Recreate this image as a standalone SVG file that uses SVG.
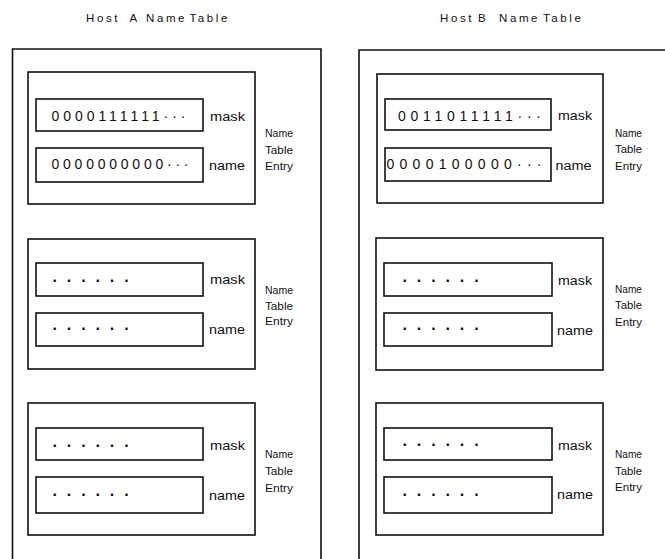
<svg xmlns="http://www.w3.org/2000/svg" width="665" height="559" viewBox="0 0 665 559">
<style>
.frame{fill:none;stroke:#111;stroke-width:1.6}
.t{font-family:"Liberation Sans",Arial,sans-serif;fill:#111}
.ttl{font-size:11.5px;letter-spacing:2.6px}
.lbl{font-size:12.5px}
.ent{font-size:11.6px}
.bits{font-size:14px}
.ph{font-size:16px;font-weight:bold;letter-spacing:9px}
</style>
<rect width="665" height="559" fill="#fff"/>

<g id="hostA">
  <text class="t ttl" y="21.5"><tspan x="86">Host</tspan><tspan x="129.5">A</tspan><tspan x="146">Name</tspan><tspan x="189.5">Table</tspan></text>
  <path class="frame" d="M12.5,560 V49 H321 V560"/>
</g>

<g id="hostA-entry1">
  <rect class="frame" x="28" y="72" width="227" height="132"/>
  <rect class="frame" x="36" y="99" width="167" height="32"/>
  <rect class="frame" x="36" y="148" width="167" height="34"/>
  <text class="t bits" x="51.5" y="121" textLength="134" lengthAdjust="spacing">0000111111···</text>
  <text class="t bits" x="51.5" y="168.5" textLength="137" lengthAdjust="spacing">0000000000···</text>
  <text class="t lbl" x="210" y="120.5" textLength="35" lengthAdjust="spacingAndGlyphs">mask</text>
  <text class="t lbl" x="209" y="170" textLength="36" lengthAdjust="spacingAndGlyphs">name</text>
  <text class="t ent" x="265" y="136.7" textLength="28" lengthAdjust="spacingAndGlyphs">Name</text>
  <text class="t ent" x="265" y="153.5" textLength="28" lengthAdjust="spacingAndGlyphs">Table</text>
  <text class="t ent" x="265" y="170" textLength="28" lengthAdjust="spacingAndGlyphs">Entry</text>
</g>

<g id="hostA-entry2">
  <rect class="frame" x="28" y="239" width="227" height="130"/>
  <rect class="frame" x="36" y="263" width="167" height="33"/>
  <rect class="frame" x="36" y="313" width="167" height="33"/>
  <text class="t ph" x="52.5" y="285.8">······</text>
  <text class="t ph" x="52.5" y="334">······</text>
  <text class="t lbl" x="210" y="284.3" textLength="35" lengthAdjust="spacingAndGlyphs">mask</text>
  <text class="t lbl" x="209" y="334.3" textLength="36" lengthAdjust="spacingAndGlyphs">name</text>
  <text class="t ent" x="265" y="294" textLength="28" lengthAdjust="spacingAndGlyphs">Name</text>
  <text class="t ent" x="265" y="309.5" textLength="28" lengthAdjust="spacingAndGlyphs">Table</text>
  <text class="t ent" x="265" y="325" textLength="28" lengthAdjust="spacingAndGlyphs">Entry</text>
</g>

<g id="hostA-entry3">
  <rect class="frame" x="28" y="403" width="227" height="132"/>
  <rect class="frame" x="36" y="428" width="167" height="32"/>
  <rect class="frame" x="36" y="477" width="167" height="36"/>
  <text class="t ph" x="52.5" y="450.5">······</text>
  <text class="t ph" x="52.5" y="499.7">······</text>
  <text class="t lbl" x="210" y="450" textLength="35" lengthAdjust="spacingAndGlyphs">mask</text>
  <text class="t lbl" x="209" y="499.5" textLength="36" lengthAdjust="spacingAndGlyphs">name</text>
  <text class="t ent" x="265" y="457.5" textLength="28" lengthAdjust="spacingAndGlyphs">Name</text>
  <text class="t ent" x="265" y="474.5" textLength="28" lengthAdjust="spacingAndGlyphs">Table</text>
  <text class="t ent" x="265" y="491.5" textLength="28" lengthAdjust="spacingAndGlyphs">Entry</text>
</g>

<g id="hostB">
  <text class="t ttl" y="21.5"><tspan x="440">Host</tspan><tspan x="478">B</tspan><tspan x="499">Name</tspan><tspan x="543">Table</tspan></text>
  <path class="frame" d="M359,560 V50 H666"/>
</g>

<g id="hostB-entry1">
  <rect class="frame" x="377" y="74" width="226" height="129"/>
  <rect class="frame" x="385" y="99" width="166" height="31"/>
  <rect class="frame" x="385" y="148" width="166" height="33"/>
  <text class="t bits" x="398" y="121" textLength="143" lengthAdjust="spacing">0011011111···</text>
  <text class="t bits" x="386.5" y="169" textLength="155" lengthAdjust="spacing">0000100000···</text>
  <text class="t lbl" x="558" y="120" textLength="34" lengthAdjust="spacingAndGlyphs">mask</text>
  <text class="t lbl" x="555.5" y="170" textLength="36" lengthAdjust="spacingAndGlyphs">name</text>
  <text class="t ent" x="615" y="136.7" textLength="27" lengthAdjust="spacingAndGlyphs">Name</text>
  <text class="t ent" x="615" y="153.3" textLength="27" lengthAdjust="spacingAndGlyphs">Table</text>
  <text class="t ent" x="615" y="170" textLength="27" lengthAdjust="spacingAndGlyphs">Entry</text>
</g>

<g id="hostB-entry2">
  <rect class="frame" x="376" y="238" width="227" height="132"/>
  <rect class="frame" x="384" y="263" width="168" height="33"/>
  <rect class="frame" x="384" y="313" width="168" height="33"/>
  <text class="t ph" x="402.5" y="285.8">······</text>
  <text class="t ph" x="402.5" y="334">······</text>
  <text class="t lbl" x="558" y="285" textLength="34" lengthAdjust="spacingAndGlyphs">mask</text>
  <text class="t lbl" x="557" y="335" textLength="36" lengthAdjust="spacingAndGlyphs">name</text>
  <text class="t ent" x="615" y="293.3" textLength="27" lengthAdjust="spacingAndGlyphs">Name</text>
  <text class="t ent" x="615" y="309.3" textLength="27" lengthAdjust="spacingAndGlyphs">Table</text>
  <text class="t ent" x="615" y="326" textLength="27" lengthAdjust="spacingAndGlyphs">Entry</text>
</g>

<g id="hostB-entry3">
  <rect class="frame" x="376" y="403" width="227" height="132"/>
  <rect class="frame" x="384" y="428" width="168" height="32"/>
  <rect class="frame" x="384" y="477" width="168" height="36"/>
  <text class="t ph" x="402.5" y="450">······</text>
  <text class="t ph" x="402.5" y="499.7">······</text>
  <text class="t lbl" x="558" y="450" textLength="34" lengthAdjust="spacingAndGlyphs">mask</text>
  <text class="t lbl" x="557" y="499.3" textLength="36" lengthAdjust="spacingAndGlyphs">name</text>
  <text class="t ent" x="615" y="458" textLength="27" lengthAdjust="spacingAndGlyphs">Name</text>
  <text class="t ent" x="615" y="475" textLength="27" lengthAdjust="spacingAndGlyphs">Table</text>
  <text class="t ent" x="615" y="491" textLength="27" lengthAdjust="spacingAndGlyphs">Entry</text>
</g>
</svg>
